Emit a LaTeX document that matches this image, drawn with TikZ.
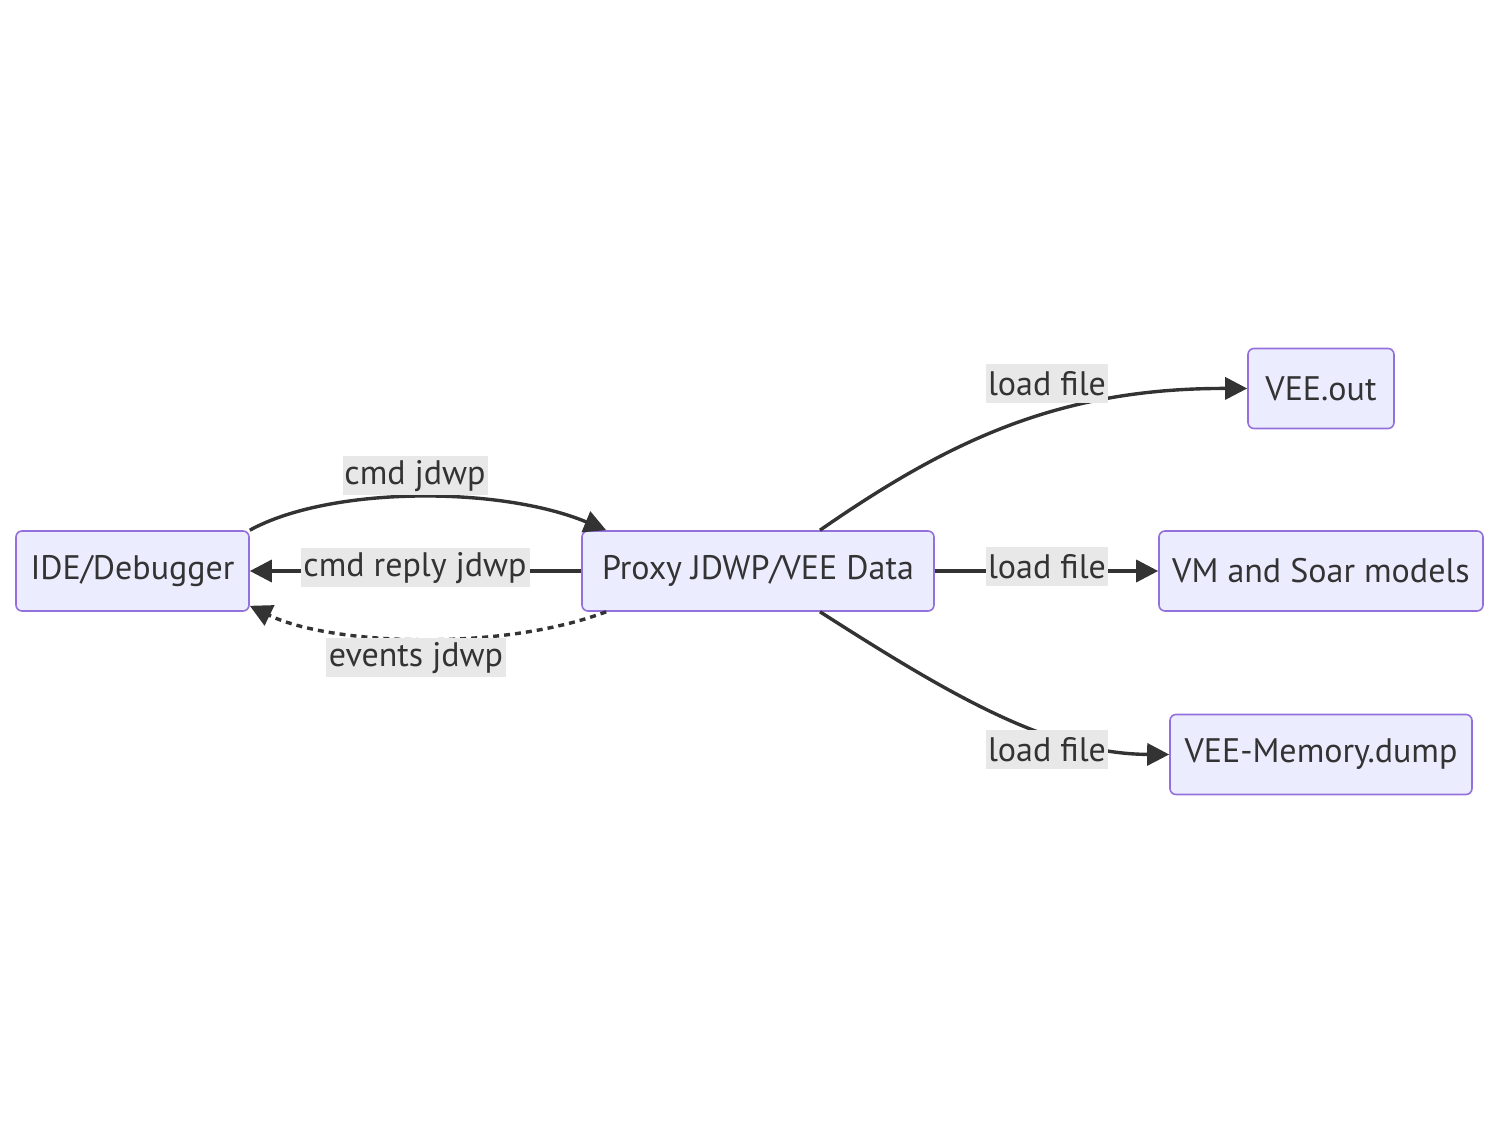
\documentclass[tikz,border=0pt]{standalone}
\usepackage{fontspec}
\setmainfont{PT Sans}
\usetikzlibrary{arrows.meta}
\definecolor{nodefill}{HTML}{ECECFF}
\definecolor{nodeborder}{HTML}{9370DB}
\definecolor{ink}{HTML}{333333}
\definecolor{lblbg}{HTML}{E8E8E8}
\begin{document}
\begin{tikzpicture}[x=0.5pt,y=-0.5pt,
  box/.style={draw=nodeborder, fill=nodefill, line width=0.8pt, rounded corners=3pt,
    inner sep=0pt, text=ink, font=\fontsize{17}{20}\selectfont, minimum height=40pt},
  lbl/.style={fill=lblbg, inner sep=0pt, text=ink, font=\fontsize{17}{20}\selectfont,
    minimum height=19.5pt},
  conn/.style={draw=ink, line width=1.7pt, -{Triangle[length=11pt,width=11pt]}},
  dotconn/.style={conn, dash pattern=on 3pt off 2.5pt},
]
\useasboundingbox (0,0) rectangle (1500,1143);

\node[box, minimum width=116.5pt] (ide) at (132.5,571) {IDE/Debugger};
\node[box, minimum width=176pt] (proxy) at (758,571) {Proxy JDWP/VEE Data};
\node[box, minimum width=73pt] (veeout) at (1321,388.5) {VEE.out};
\node[box, minimum width=162pt] (vm) at (1321,571) {VM and Soar models};
\node[box, minimum width=151pt] (mem) at (1321,754.5) {VEE-Memory.dump};

\draw[conn] (ide.north east) .. controls (330,486) and (500,486) .. ([xshift=12.5pt]proxy.north west);
\draw[conn] (proxy.west) -- (ide.east);
\draw[dotconn] ([xshift=12.5pt]proxy.south west) .. controls (500,652) and (330,645) .. ([yshift=3pt]ide.south east);
\draw[conn] ([xshift=31pt]proxy.north) .. controls (950,440) and (1060,388) .. (veeout.west);
\draw[conn] (proxy.east) -- (vm.west);
\draw[conn] ([xshift=31pt]proxy.south) .. controls (950,695) and (1050,754) .. (mem.west);

\node[lbl, minimum width=72.5pt] (l1) at (415,476) {cmd jdwp};
\node[lbl, minimum width=114.5pt] (l2) at (415,568) {cmd reply jdwp};
\node[lbl, minimum width=90pt] (l3) at (416,658) {events jdwp};
\node[lbl, minimum width=61pt] (l4) at (1047,384) {load file};
\node[lbl, minimum width=61pt] (l5) at (1047,567) {load file};
\node[lbl, minimum width=61pt] (l6) at (1047,750) {load file};
\end{tikzpicture}
\end{document}
